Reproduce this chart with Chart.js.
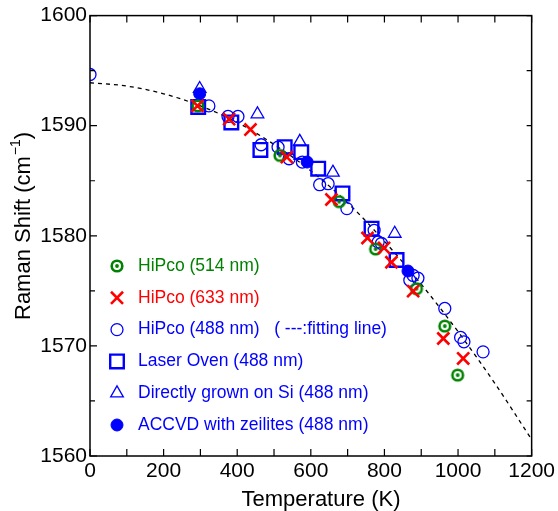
<!DOCTYPE html>
<html>
<head>
<meta charset="utf-8">
<script src="https://cdn.jsdelivr.net/npm/chart.js@4/dist/chart.umd.min.js"></script>
<style>
  html, body { margin: 0; padding: 0; background: #fff; }
  #wrap { width: 558px; height: 511px; }
</style>
</head>
<body>
<div id="wrap"><canvas id="c" width="558" height="511"></canvas></div>
<script>
// G-band Raman shift versus temperature for several nanotube samples
const fitT     = [0, 100, 200, 300, 400, 500, 600, 700, 800, 900, 1000, 1100, 1200];
const fitShift = [1593.9, 1593.6, 1592.9, 1591.8, 1590.3, 1588.3, 1585.9, 1583.0, 1579.5, 1575.6, 1571.3, 1566.6, 1561.5];

const hipco514T = [293, 516, 677, 776, 887, 964, 999];
const hipco514S = [1591.8, 1587.3, 1583.1, 1578.8, 1575.2, 1571.8, 1567.35];

const hipco633T = [292, 378, 436, 535, 656, 754, 799, 819, 878, 960, 1014];
const hipco633S = [1591.8, 1590.6, 1589.65, 1587.15, 1583.3, 1579.8, 1578.9, 1577.6, 1574.97, 1570.67, 1568.86];

const hipco488T = [0, 323, 375, 402, 465, 511, 541, 577, 624, 647, 698, 772, 783, 792, 869, 878, 891, 964, 1007, 1016, 1068];
const hipco488S = [1594.65, 1591.8, 1590.84, 1590.84, 1588.27, 1588.05, 1587.0, 1586.7, 1584.64, 1584.73, 1582.47, 1580.5, 1579.44, 1579.3, 1575.96, 1576.4, 1576.15, 1573.4, 1570.77, 1570.37, 1569.46];

const laserT = [294, 384, 463, 529, 574, 620, 686, 765, 833];
const laserS = [1591.7, 1590.3, 1587.8, 1588.05, 1587.6, 1586.1, 1583.85, 1580.65, 1577.8];

const siT = [298, 455, 570, 660, 828];
const siS = [1593.35, 1591.05, 1588.55, 1585.75, 1580.2];

const accvdT = [298, 590, 864];
const accvdS = [1592.9, 1586.7, 1576.8];

const seriesLabels = [
  'HiPco (514 nm)',
  'HiPco (633 nm)',
  'HiPco (488 nm)   ( ---:fitting line)',
  'Laser Oven (488 nm)',
  'Directly grown on Si (488 nm)',
  'ACCVD with zeilites (488 nm)'
];

const GREEN = 'rgb(0,130,0)';
const RED = '#ff0000';
const BLUE = '#0000ff';
const FONT = "'Liberation Sans', Arial, Helvetica, sans-serif";

const pts = (xs, ys) => xs.map((v, i) => ({ x: v, y: ys[i] }));

// ring-with-centre-dot marker
function ringDot(color) {
  const s = 16, c = document.createElement('canvas');
  c.width = s; c.height = s;
  const g = c.getContext('2d');
  g.strokeStyle = color; g.lineWidth = 2.6;
  g.beginPath(); g.arc(s / 2, s / 2, 5.3, 0, Math.PI * 2); g.stroke();
  g.fillStyle = color;
  g.beginPath(); g.arc(s / 2, s / 2, 1.9, 0, Math.PI * 2); g.fill();
  return c;
}
const ringImg = ringDot(GREEN);

const scatterSets = [
  { label: seriesLabels[0], data: pts(hipco514T, hipco514S), pointStyle: ringImg, pointRadius: 7,
    borderColor: GREEN, backgroundColor: GREEN, borderWidth: 2.6, order: 2, textColor: GREEN },
  { label: seriesLabels[1], data: pts(hipco633T, hipco633S), pointStyle: 'crossRot', pointRadius: 8.5,
    borderColor: RED, backgroundColor: RED, pointBorderWidth: 2.6, order: 1, textColor: RED },
  { label: seriesLabels[2], data: pts(hipco488T, hipco488S), pointStyle: 'circle', pointRadius: 6,
    borderColor: BLUE, backgroundColor: 'rgba(0,0,0,0)', pointBorderWidth: 1.3, order: 6, textColor: BLUE },
  { label: seriesLabels[3], data: pts(laserT, laserS), pointStyle: 'rect', pointRadius: 9.6,
    borderColor: BLUE, backgroundColor: 'rgba(0,0,0,0)', pointBorderWidth: 2.4, order: 5, textColor: BLUE },
  { label: seriesLabels[4], data: pts(siT, siS), pointStyle: 'triangle', pointRadius: 7.3,
    borderColor: BLUE, backgroundColor: 'rgba(0,0,0,0)', pointBorderWidth: 1.3, order: 4, textColor: BLUE },
  { label: seriesLabels[5], data: pts(accvdT, accvdS), pointStyle: 'circle', pointRadius: 6,
    borderColor: BLUE, backgroundColor: BLUE, pointBorderWidth: 1, order: 3, textColor: BLUE }
];

const datasets = scatterSets.map(d => Object.assign({ type: 'scatter', showLine: false, pointHoverRadius: d.pointRadius }, d));
datasets.push({
  type: 'line', label: 'fitting line', data: pts(fitT, fitShift),
  borderColor: '#000', borderWidth: 1.3, borderDash: [4, 4], pointRadius: 0,
  cubicInterpolationMode: 'monotone', fill: false, order: 7
});

const decor = {
  id: 'decor',
  afterDraw(chart) {
    const { ctx, chartArea: a, scales: { x, y } } = chart;
    ctx.save();
    // frame
    ctx.strokeStyle = '#000';
    ctx.lineWidth = 1.5;
    ctx.strokeRect(a.left, a.top, a.right - a.left, a.bottom - a.top);
    // inward ticks
    ctx.lineWidth = 1.2;
    ctx.beginPath();
    for (let t = 0; t <= 1200; t += 100) {
      const px = x.getPixelForValue(t);
      ctx.moveTo(px, a.bottom); ctx.lineTo(px, a.bottom - 7);
      ctx.moveTo(px, a.top); ctx.lineTo(px, a.top + 7);
    }
    for (let v = 1560; v <= 1600; v += 5) {
      const py = y.getPixelForValue(v);
      const L = v % 10 === 0 ? 7 : 5;
      ctx.moveTo(a.left, py); ctx.lineTo(a.left + L, py);
      ctx.moveTo(a.right, py); ctx.lineTo(a.right - 5, py);
    }
    ctx.stroke();

    // axis titles
    ctx.fillStyle = '#000';
    ctx.textBaseline = 'middle';
    ctx.textAlign = 'center';
    ctx.font = '22px ' + FONT;
    ctx.fillText('Temperature (K)', 321, 500);

    ctx.save();
    ctx.translate(24, 320);
    ctx.rotate(-Math.PI / 2);
    ctx.textAlign = 'left';
    ctx.font = '22px ' + FONT;
    const main = 'Raman Shift (cm';
    ctx.fillText(main, 0, 0);
    let w = ctx.measureText(main).width;
    ctx.font = '14px ' + FONT;
    const sup = '\u22121';
    ctx.fillText(sup, w + 1, -8);
    w += ctx.measureText(sup).width + 1;
    ctx.font = '22px ' + FONT;
    ctx.fillText(')', w, 0);
    ctx.restore();

    // legend
    const lx = 117, tx = 138, y0 = 266, dy = 31.8;
    ctx.font = '17.5px ' + FONT;
    ctx.textAlign = 'left';
    scatterSets.forEach((d, i) => {
      const cy = y0 + i * dy;
      if (d.pointStyle instanceof HTMLCanvasElement) {
        ctx.drawImage(d.pointStyle, lx - d.pointStyle.width / 2, cy - d.pointStyle.height / 2);
      } else {
        ctx.strokeStyle = d.borderColor;
        ctx.fillStyle = d.backgroundColor;
        ctx.lineWidth = d.pointBorderWidth;
        Chart.helpers.drawPoint(ctx, {
          pointStyle: d.pointStyle, radius: d.pointRadius, rotation: 0, borderWidth: d.pointBorderWidth
        }, lx, cy);
      }
      ctx.fillStyle = d.textColor;
      ctx.fillText(d.label, tx, cy);
    });
    ctx.restore();
  }
};

const tickFont = { family: FONT, size: 21 };
const plainNumber = v => String(v);

new Chart(document.getElementById('c'), {
  data: { datasets },
  options: {
    responsive: false,
    animation: false,
    devicePixelRatio: 1,
    layout: { padding: { top: 15, right: 26, left: 0, bottom: 0 } },
    plugins: { legend: { display: false }, tooltip: { enabled: false } },
    scales: {
      x: {
        type: 'linear', min: 0, max: 1200,
        ticks: { stepSize: 200, autoSkip: false, maxRotation: 0, font: tickFont, color: '#000', padding: 3, callback: plainNumber },
        grid: { display: false, drawTicks: false },
        border: { display: false },
        afterFit(s) { s.height = 55; }
      },
      y: {
        type: 'linear', min: 1560, max: 1600,
        ticks: { stepSize: 10, autoSkip: false, font: tickFont, color: '#000', padding: 3, callback: plainNumber },
        grid: { display: false, drawTicks: false },
        border: { display: false },
        afterFit(s) { s.width = 90; }
      }
    }
  },
  plugins: [decor]
});
</script>
</body>
</html>
